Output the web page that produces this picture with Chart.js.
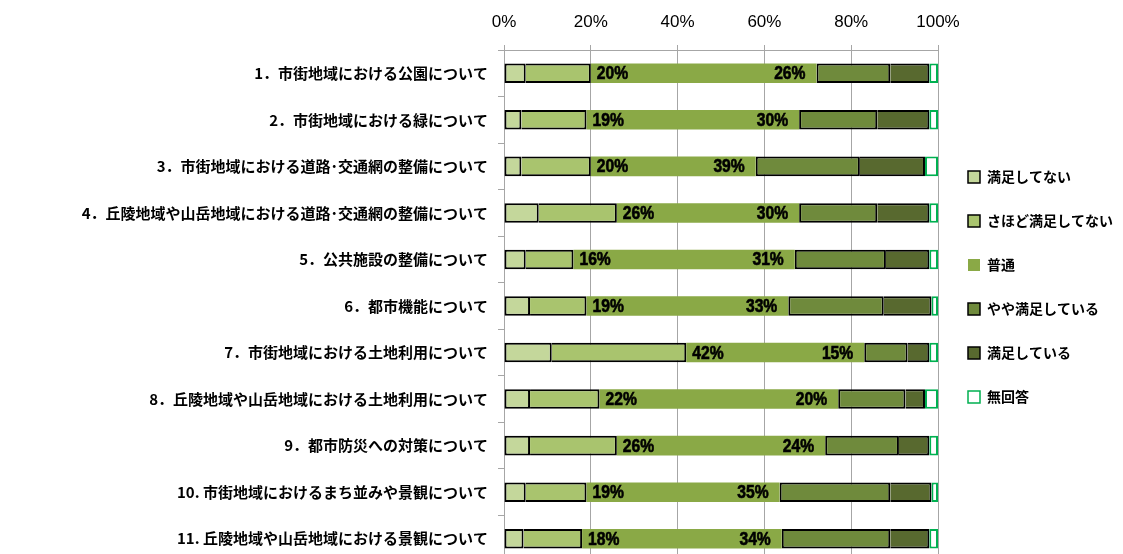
<!DOCTYPE html>
<html>
<head>
<meta charset="utf-8">
<script src="https://cdn.jsdelivr.net/npm/chart.js@4.4.1/dist/chart.umd.min.js"></script>
<style>
  html, body { margin: 0; padding: 0; background: #fff; overflow: hidden; }
  canvas { display: block; }
</style>
</head>
<body>
<canvas id="chart" width="1123" height="566"></canvas>
<script>
// survey items (top to bottom)
var ITEMS = [
  '1．市街地域における公園について',
  '2．市街地域における緑について',
  '3．市街地域における道路･交通網の整備について',
  '4．丘陵地域や山岳地域における道路･交通網の整備について',
  '5．公共施設の整備について',
  '6．都市機能について',
  '7．市街地域における土地利用について',
  '8．丘陵地域や山岳地域における土地利用について',
  '9．都市防災への対策について',
  '10. 市街地域におけるまち並みや景観について',
  '11. 丘陵地域や山岳地域における景観について'
];

var SERIES = ['満足してない', 'さほど満足してない', '普通', 'やや満足している', '満足している', '無回答'];

// answer shares, % of respondents
var notSatisfied = [5, 4, 4, 8, 5, 6, 11, 6, 6, 5, 4.5];
var notVery      = [15, 15, 16, 18, 11, 13, 31, 16, 20, 14, 13.5];
var neutral      = [52, 49, 38, 42, 51, 46.5, 41, 55, 48, 44.5, 46];
var somewhat     = [17, 18, 24, 18, 21, 22, 10, 15.5, 17, 25.5, 25];
var satisfied    = [9, 12, 15, 12, 10, 11, 5, 4.5, 7, 9.5, 9];
var noAnswer     = [2, 2, 3, 2, 2, 1.5, 2, 3, 2, 1.5, 2];

var X_TICKS = [0, 20, 40, 60, 80, 100];

var COLORS = ['#c4d79b', '#a9c46e', '#8aa946', '#6f8a3c', '#58692f', '#ffffff'];
var EDGE = '#000000';
var EDGE_NA = '#00b050';
var GRID = '#a6a6a6';

var LABEL_FONT = '"Noto Sans CJK JP", "Noto Sans", sans-serif';

function seg(i, data, bw, edge) {
  return {
    label: SERIES[i],
    data: data,
    backgroundColor: COLORS[i],
    borderColor: edge,
    borderWidth: bw,
    borderSkipped: false,
    barPercentage: 0.42,
    categoryPercentage: 1.0
  };
}

var full = { top: 2, right: 2, bottom: 2, left: 2 };
var noLeft = { top: 2, right: 2, bottom: 2, left: 0 };

// narrow heavy text: squeeze horizontally around the anchor point
function narrowText(ctx, text, x, y, align) {
  ctx.save();
  ctx.translate(x, y);
  ctx.scale(0.87, 1);
  ctx.textAlign = align;
  ctx.fillText(text, 0, 0);
  ctx.strokeText(text, 0, 0);
  ctx.restore();
}

// "dissatisfied" total on the left, "satisfied" total on the right of the middle segment
var sumLabels = {
  id: 'sumLabels',
  afterDatasetsDraw: function (chart) {
    var ctx = chart.ctx;
    var mid = chart.getDatasetMeta(2);
    ctx.save();
    ctx.font = 'bold 18px "Liberation Sans", Arial, sans-serif';
    ctx.fillStyle = '#000';
    ctx.strokeStyle = '#000';
    ctx.lineWidth = 0.6;
    ctx.textBaseline = 'middle';
    mid.data.forEach(function (bar, i) {
      var low = Math.round(notSatisfied[i] + notVery[i]);
      var high = Math.round(somewhat[i] + satisfied[i]);
      var x0 = Math.min(bar.base, bar.x), x1 = Math.max(bar.base, bar.x);
      narrowText(ctx, low + '%', x0 + 6, bar.y + 1, 'left');
      narrowText(ctx, high + '%', x1 - 11, bar.y + 1, 'right');
    });
    ctx.restore();
  }
};

new Chart(document.getElementById('chart'), {
  type: 'bar',
  data: {
    labels: ITEMS,
    datasets: [
      seg(0, notSatisfied, full, EDGE),
      seg(1, notVery, noLeft, EDGE),
      seg(2, neutral, 0, COLORS[2]),
      seg(3, somewhat, full, EDGE),
      seg(4, satisfied, noLeft, EDGE),
      seg(5, noAnswer, full, EDGE_NA)
    ]
  },
  options: {
    indexAxis: 'y',
    responsive: false,
    animation: false,
    layout: { padding: { top: 12, bottom: 4, left: 0, right: 0 } },
    plugins: {
      tooltip: { enabled: false },
      legend: {
        position: 'right',
        labels: {
          boxWidth: 12, boxHeight: 12, padding: 30,
          color: '#000',
          font: { family: LABEL_FONT, size: 14, weight: 'bold' },
          generateLabels: function (chart) {
            var items = Chart.defaults.plugins.legend.labels.generateLabels(chart);
            items.forEach(function (it, i) { it.lineWidth = i === 2 ? 0 : 1.5; });
            return items;
          }
        }
      }
    },
    scales: {
      x: {
        position: 'top',
        stacked: true,
        min: 0, max: 100,
        afterBuildTicks: function (s) {
          s.ticks = X_TICKS.map(function (v) { return { value: v }; });
        },
        afterFit: function (s) { s.height = 38; },
        ticks: {
          color: '#000',
          padding: 12,
          font: { family: '"Liberation Sans", Arial, sans-serif', size: 17 },
          callback: function (v) { return v + '%'; }
        },
        grid: { color: GRID, tickLength: 5 },
        border: { color: GRID }
      },
      y: {
        stacked: true,
        afterFit: function (s) {
          s.width = 504;
          s.paddingTop = 0;
          s.paddingBottom = 0;
        },
        ticks: {
          color: '#000',
          padding: 10,
          font: { family: LABEL_FONT, size: 15, weight: 'bold' }
        },
        grid: { drawOnChartArea: false, color: GRID, tickLength: 6 },
        border: { color: GRID }
      }
    }
  },
  plugins: [sumLabels]
});
</script>
</body>
</html>
